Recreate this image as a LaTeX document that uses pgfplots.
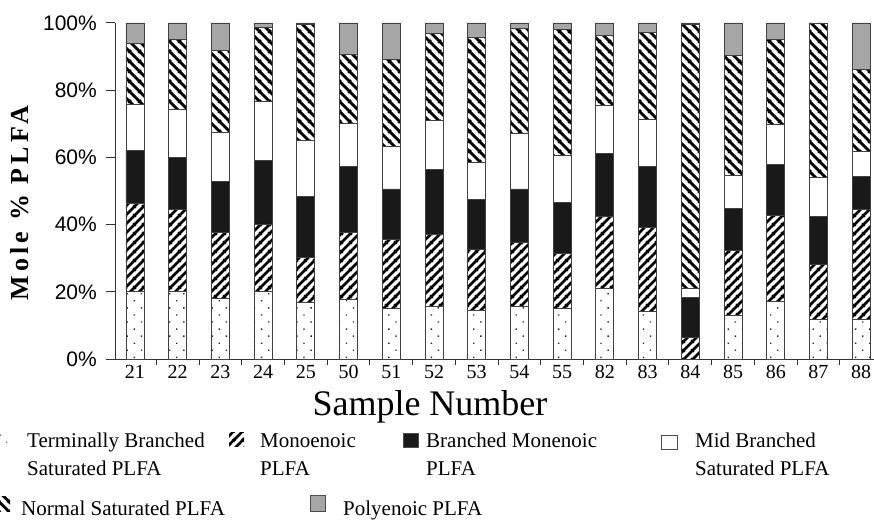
\documentclass[border=0pt]{standalone}
\usepackage{pgfplots}
\pgfplotsset{compat=1.18}
\usepackage{pgfplotstable}
\usepackage{fontspec}
\setmainfont{Liberation Serif}
\newfontfamily\sansfont{Liberation Sans}
\usetikzlibrary{patterns,patterns.meta}

\pgfdeclarepatternformonly{monohatch}{\pgfpointorigin}{\pgfqpoint{9pt}{9pt}}{\pgfqpoint{9pt}{9pt}}{%
  \pgfsetlinewidth{2.8pt}%
  \pgfpathmoveto{\pgfqpoint{-1pt}{-1pt}}\pgfpathlineto{\pgfqpoint{10pt}{10pt}}%
  \pgfpathmoveto{\pgfqpoint{-1pt}{8pt}}\pgfpathlineto{\pgfqpoint{1pt}{10pt}}%
  \pgfpathmoveto{\pgfqpoint{8pt}{-1pt}}\pgfpathlineto{\pgfqpoint{10pt}{1pt}}%
  \pgfusepath{stroke}}
\pgfdeclarepatternformonly{nshatch}{\pgfpointorigin}{\pgfqpoint{10pt}{10pt}}{\pgfqpoint{10pt}{10pt}}{%
  \pgfsetlinewidth{3pt}%
  \pgfpathmoveto{\pgfqpoint{-1pt}{11pt}}\pgfpathlineto{\pgfqpoint{11pt}{-1pt}}%
  \pgfpathmoveto{\pgfqpoint{-1pt}{1pt}}\pgfpathlineto{\pgfqpoint{1pt}{-1pt}}%
  \pgfpathmoveto{\pgfqpoint{9pt}{11pt}}\pgfpathlineto{\pgfqpoint{11pt}{9pt}}%
  \pgfusepath{stroke}}

\tikzset{
  tsfill/.style={pattern={Dots[radius=0.95pt,distance=10pt,angle=45]},pattern color=black!85},
  monofill/.style={pattern=monohatch,pattern color=black},
  bmfill/.style={fill=black!90},
  midfill/.style={fill=white},
  nsfill/.style={pattern=nshatch,pattern color=black},
  polyfill/.style={fill=black!35},
}

\pgfplotstableread{
x ts mono bm mid ns poly
0 20.1 26.3 15.7 13.6 18.1 6.2
1 20.0 24.6 15.4 14.4 20.6 5.0
2 17.9 19.9 15.1 14.4 24.5 8.2
3 20.0 20.2 18.8 17.7 22.0 1.3
4 16.7 13.5 18.2 16.6 34.5 0.5
5 17.6 20.2 19.5 12.7 20.6 9.4
6 15.2 20.5 14.9 12.6 25.9 10.9
7 15.7 21.3 19.3 14.7 26.0 3.0
8 14.5 18.0 15.1 11.0 37.2 4.2
9 15.7 19.1 15.8 16.5 31.4 1.5
10 15.2 16.1 15.3 13.9 37.7 1.8
11 20.9 21.5 18.9 14.2 20.8 3.7
12 14.2 25.1 18.0 13.9 26.0 2.8
13 0.0 6.5 11.8 2.7 78.5 0.5
14 12.9 19.4 12.4 9.9 35.7 9.7
15 17.1 25.5 15.2 11.9 25.3 5.0
16 11.9 16.4 14.1 11.5 46.1 0.0
17 11.9 32.7 9.7 7.5 24.3 13.9
}\data

\begin{document}
\begin{tikzpicture}[x=1pt,y=1pt]
\begin{axis}[
  at={(115pt,161pt)}, anchor=south west,
  scale only axis, width=759pt, height=336pt,
  ybar stacked, bar width=18pt,
  xmin=-0.468, xmax=17.3, ymin=0, ymax=100,
  axis lines=left,
  axis line style={-, black!80, line width=1pt},
  every tick/.style={black!80, line width=1pt},
  tick align=outside,
  major tick length=9pt, minor tick length=6pt,
  xtick={0,...,17},
  xticklabels={21,22,23,24,25,50,51,52,53,54,55,82,83,84,85,86,87,88},
  major x tick style={draw=none},
  minor xtick={0.5,1.5,...,16.5},
  xticklabel style={font=\fontsize{20}{20}\selectfont, anchor=base, inner sep=0pt, yshift=-10pt},
  ytick={0,20,...,100},
  /pgf/number format/assume math mode=true,
  yticklabel={\pgfmathprintnumber{\tick}\%},
  yticklabel style={font=\fontsize{21}{21}\sansfont, anchor=east, inner sep=0pt, xshift=-9pt},
  xlabel={Sample Number},
  xlabel style={font=\fontsize{36}{36}\selectfont, at={(axis description cs:0.415,-0.167)}, anchor=base},
  ylabel={\textbf{Mole \% PLFA}},
  ylabel style={font=\fontsize{26}{26}\selectfont\addfontfeature{LetterSpace=16}, at={(axis description cs:-0.125,0.47)}, anchor=center},
  every axis plot/.append style={draw=black!75, line width=0.8pt},
  clip=false,
]
\addplot[tsfill, draw=black!75] table[x=x,y=ts] {\data};
\addplot[monofill, draw=black!75] table[x=x,y=mono] {\data};
\addplot[bmfill, draw=black!75] table[x=x,y=bm] {\data};
\addplot[midfill, draw=black!75] table[x=x,y=mid] {\data};
\addplot[nsfill, draw=black!75] table[x=x,y=ns] {\data};
\addplot[polyfill, draw=black!75] table[x=x,y=poly] {\data};
\end{axis}

% legend (image coords: tikz y = 520 - y_img)
\begin{scope}[every node/.style={font=\fontsize{21}{21}\selectfont, inner sep=0pt, anchor=base west}]
  % row 1
  \fill[tsfill] (-8,73) rectangle (7,88);
  \node at (27,73) {Terminally Branched};
  \node at (27,45) {Saturated PLFA};
  \fill[monofill] (229,74) rectangle (244,88);
  \node at (260,73) {Monoenoic};
  \node at (260,45) {PLFA};
  \draw[bmfill, draw=black!70] (403,73) rectangle (418,87);
  \node at (426,73) {Branched Monenoic};
  \node at (426,45) {PLFA};
  \draw[midfill, draw=black!70, line width=0.8pt] (661,71) rectangle (677,85);
  \node at (695,73) {Mid Branched};
  \node at (695,45) {Saturated PLFA};
  % row 2
  \fill[nsfill] (-5,9) rectangle (10,24);
  \node at (21,5) {Normal Saturated PLFA};
  \draw[polyfill, draw=black!70, line width=0.8pt] (310,9) rectangle (325,25);
  \node at (343,5) {Polyenoic PLFA};
\end{scope}

\pgfresetboundingbox
\useasboundingbox (0,0) rectangle (874,520);
\end{tikzpicture}
\end{document}
